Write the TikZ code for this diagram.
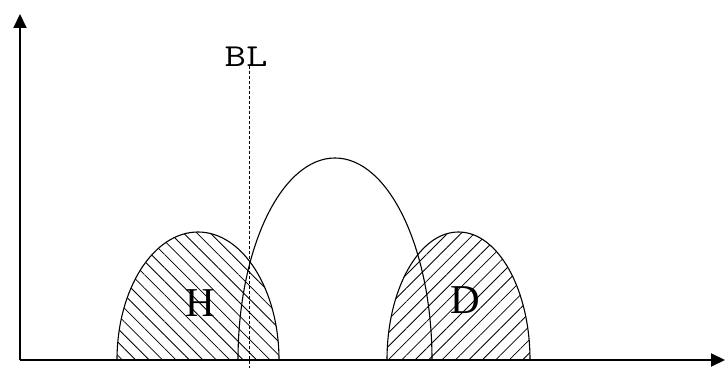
\documentclass[tikz,border=0pt]{standalone}
\usepackage{fontspec}
\setmainfont{Liberation Serif}
\usetikzlibrary{arrows.meta,patterns.meta}
\begin{document}
\begin{tikzpicture}[x=1pt,y=1pt,
  axis/.style={line width=2pt,-{Triangle[length=14pt,width=13pt]}},
  arch/.style={line width=1.1pt},
  hatchH/.style={pattern={Lines[angle=-45,distance=9.5pt,line width=0.8pt]}},
  hatchD/.style={pattern={Lines[angle=45,distance=9.5pt,line width=0.8pt]}},
  lbl/.style={font=\fontsize{41}{41}\selectfont,inner sep=0pt},
  bllbl/.style={font=\ttfamily\fontsize{32}{32}\selectfont,inner sep=0pt}]
\useasboundingbox (0,0) rectangle (725,372);
% hatched regions
\fill[hatchH] (117,12) arc[start angle=180,end angle=0,x radius=81,y radius=128] -- cycle;
\fill[hatchD] (387,12) arc[start angle=180,end angle=0,x radius=71.5,y radius=128] -- cycle;
% outlines
\draw[arch] (117,12) arc[start angle=180,end angle=0,x radius=81,y radius=128];
\draw[arch] (387,12) arc[start angle=180,end angle=0,x radius=71.5,y radius=128];
\draw[arch] (238,12) arc[start angle=180,end angle=0,x radius=97,y radius=202];
% labels
\node[lbl] (H) at (200,69) {H};
\node[lbl] (D) at (465,72) {D};
\node[bllbl] (BL) at (246,315) {\scalebox{1.3}[1]{BL}};
% BL line
\coordinate (blbot) at (249,4);
\draw[line width=1pt,dash pattern=on 3pt off 2pt] (249,306) -- (blbot);
% axes
\coordinate (O) at (20,12);
\coordinate (xend) at (725,12);
\coordinate (yend) at (20,358);
\draw[axis] (O) -- (xend);
\draw[axis] (O) -- (yend);
\end{tikzpicture}
\end{document}
